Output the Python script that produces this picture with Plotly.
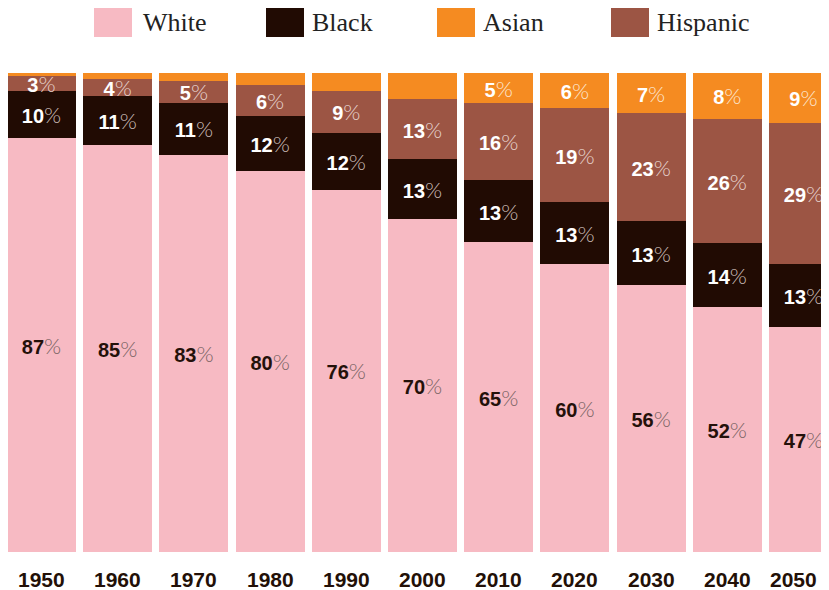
import plotly.graph_objects as go

years = ["1950", "1960", "1970", "1980", "1990", "2000", "2010", "2020", "2030", "2040", "2050"]

# segment heights (share of population, %)
white = [86.4, 85.0, 82.9, 79.5, 75.6, 69.5, 64.7, 60.1, 55.7, 51.1, 47.0]
black = [9.8, 10.2, 10.9, 11.5, 11.9, 12.5, 12.9, 12.9, 13.4, 13.4, 13.2]
hispanic = [3.1, 3.5, 4.6, 6.5, 8.8, 12.5, 16.1, 19.6, 22.5, 25.9, 29.4]
asian = [0.6, 1.3, 1.7, 2.5, 3.8, 5.5, 6.3, 7.3, 8.4, 9.6, 10.4]

# labels printed on the bars
white_lbl = [87, 85, 83, 80, 76, 70, 65, 60, 56, 52, 47]
black_lbl = [10, 11, 11, 12, 12, 13, 13, 13, 13, 14, 13]
hispanic_lbl = [3, 4, 5, 6, 9, 13, 16, 19, 23, 26, 29]
asian_lbl = [None, None, None, None, None, None, 5, 6, 7, 8, 9]

C_WHITE = "#F7BAC3"
C_BLACK = "#210B03"
C_ASIAN = "#F58B21"
C_HISP = "#9C5544"


def fmt(vals, pct_color):
    out = []
    for v in vals:
        if v is None:
            out.append("")
        else:
            out.append(f"<b>{v}</b><span style='color:{pct_color};font-weight:300;font-family:Lato;font-size:22px'>%</span>")
    return out


series = [
    ("White", white, white_lbl, C_WHITE, "#24110A", "#7A6464"),
    ("Black", black, black_lbl, C_BLACK, "#FFFFFF", "#C9BBB6"),
    ("Hispanic", hispanic, hispanic_lbl, C_HISP, "#FFFFFF", "#E6D3CD"),
    ("Asian", asian, asian_lbl, C_ASIAN, "#FFFFFF", "#FCE6D0"),
]

fig = go.Figure()
for name, vals, lbls, col, tcol, pcol in series:
    fig.add_trace(go.Bar(
        x=years, y=vals, name=name,
        marker=dict(color=col, line=dict(width=0)),
        text=fmt(lbls, pcol),
        textposition="inside",
        insidetextanchor="middle",
        textangle=0,
        textfont=dict(family="Liberation Sans", size=20, color=tcol),
        showlegend=False,
        hoverinfo="skip",
    ))

# the page adds an 8px body margin, so the figure is drawn 8px smaller
OFF = 8
W, H = 829 - OFF, 590 - OFF
PL, PR, PT, PB = 0, 0, 73 - OFF, 590 - 552
ph = H - PT - PB


def py(pix):
    return (H - PB - (pix - OFF)) / ph


def px(pix):
    return ((pix - OFF) - PL) / (W - PL - PR)


legend_items = [("White", C_WHITE, 94, 143), ("Black", C_BLACK, 266, 312),
                ("Asian", C_ASIAN, 437, 483), ("Hispanic", C_HISP, 611, 657)]
shapes = []
annotations = []
for name, col, sx, tx in legend_items:
    shapes.append(dict(type="rect", xref="paper", yref="paper",
                       x0=px(sx), x1=px(sx + 38), y0=py(37), y1=py(8),
                       fillcolor=col, line=dict(width=0), layer="above"))
    annotations.append(dict(xref="paper", yref="paper", x=px(tx - 2), y=py(23),
                            text=name, showarrow=False, xanchor="left", yanchor="middle",
                            font=dict(family="Liberation Serif", size=26, color="#222222")))

# year labels under the bars (last one nudged so it stays inside the visible page)
for i, yr in enumerate(years):
    annotations.append(dict(xref="x", yref="paper", x=i, y=py(579),
                            text=f"<b>{yr}</b>", showarrow=False, xanchor="center", yanchor="middle",
                            xshift=-10 if i == len(years) - 1 else 0,
                            font=dict(family="Liberation Sans", size=21, color="#231007")))

fig.update_layout(
    width=W, height=H,
    margin=dict(l=PL, r=PR, t=PT, b=PB, pad=0),
    barmode="stack",
    bargap=0.092,
    plot_bgcolor="white",
    paper_bgcolor="white",
    uniformtext=dict(minsize=20, mode="show"),
    shapes=shapes,
    annotations=annotations,
    xaxis=dict(
        type="category",
        range=[(8 - 41.5) / 76.2, (829 - 41.5) / 76.2],
        showgrid=False, zeroline=False, showline=False, ticks="",
        showticklabels=False,
    ),
    yaxis=dict(range=[0, 100], visible=False, showgrid=False, zeroline=False),
    showlegend=False,
)

fig.write_html("out.html")
